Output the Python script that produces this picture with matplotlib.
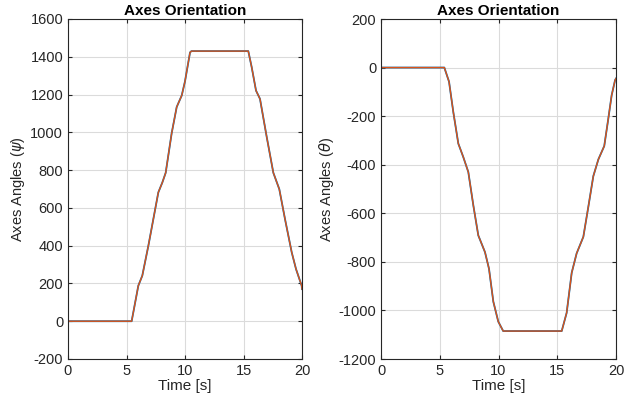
import matplotlib.pyplot as plt

plt.rcParams['font.family'] = ['Liberation Sans', 'DejaVu Sans']
plt.rcParams['mathtext.fontset'] = 'dejavusans'
plt.rcParams['axes.unicode_minus'] = False

# psi (left panel)
t_psi = [0, 5.44, 6.01, 6.35, 6.87, 7.72, 8.06, 8.35, 8.86, 9.29, 9.72, 10.0, 10.43, 10.55,
         15.41, 15.7, 16.07, 16.41, 16.98, 17.55, 18.06, 18.55, 19.12, 19.49, 19.97, 20.0]
psi = [0, 0, 188, 241, 400, 682, 734, 786, 995, 1134, 1195, 1270, 1423, 1430,
       1430, 1345, 1221, 1177, 977, 786, 699, 540, 365, 276, 188, 170]

# theta (right panel)
t_theta = [0, 5.39, 5.79, 6.15, 6.58, 7.0, 7.43, 7.86, 8.28, 8.85, 9.19, 9.56, 9.98, 10.4,
           15.38, 15.8, 16.23, 16.65, 17.22, 17.65, 18.07, 18.5, 19.0, 19.34, 19.63, 19.92, 20.0]
theta = [0, 0, -58, -182, -313, -368, -430, -568, -691, -760, -828, -964, -1046, -1085,
         -1085, -1010, -845, -765, -697, -572, -447, -378, -323, -212, -114, -52, -45]

blue = (0, 0.447, 0.741)
orange = (0.85, 0.325, 0.098)
dark = (0.15, 0.15, 0.15)

fig = plt.figure(figsize=(6.34, 3.99), dpi=100)
ax1 = fig.add_axes([68 / 634, 40 / 399, 234 / 634, 340 / 399])
ax2 = fig.add_axes([381 / 634, 40 / 399, 235 / 634, 340 / 399])

panels = [
    (ax1, t_psi, psi, (-200, 1600), range(-200, 1601, 200), r'Axes Angles ($\psi$)'),
    (ax2, t_theta, theta, (-1200, 200), range(-1200, 201, 200), r'Axes Angles ($\theta$)'),
]

for ax, t, y, ylim, yt, ylab in panels:
    ax.plot(t, y, color=blue, lw=1.3)
    ax.plot(t, y, color=orange, lw=1.0)
    ax.set_xlim(0, 20)
    ax.set_ylim(*ylim)
    ax.set_xticks([0, 5, 10, 15, 20])
    ax.set_yticks(list(yt))
    ax.grid(True, color=(0.86, 0.86, 0.86), lw=0.8)
    ax.set_axisbelow(True)
    ax.tick_params(direction='in', top=True, right=True, length=3,
                   labelsize=10.5, colors=dark, labelcolor=dark)
    for s in ax.spines.values():
        s.set_color(dark)
        s.set_linewidth(0.8)
    ax.set_title('Axes Orientation', fontsize=11, fontweight='bold', pad=3)
    ax.set_xlabel('Time [s]', fontsize=11, color=dark, labelpad=1)
    ax.set_ylabel(ylab, fontsize=10.5, color=dark, labelpad=2)

fig.savefig('out.png', dpi=100)
